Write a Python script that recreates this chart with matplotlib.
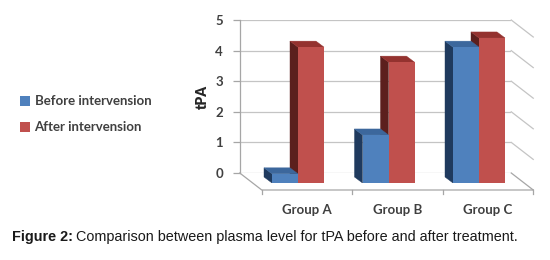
import numpy as np
import matplotlib.pyplot as plt
from matplotlib.patches import Polygon

# data (front face heights)
groups = ['Group A', 'Group B', 'Group C']
before = [0.30, 1.57, 4.44]
after = [4.44, 3.95, 4.74]
names = ['Before intervension', 'After intervension']
yticks = [0, 1, 2, 3, 4, 5]

# colours: front, top, side
blue = ('#4F81BD', '#3C679C', '#1F3A5E')
red = ('#C0504D', '#94322F', '#5C1F1D')
grid_c = '#C4C4C4'
line_c = '#A6A6A6'
text_c = '#404040'

W, H = 550, 260
fig = plt.figure(figsize=(W / 100, H / 100), dpi=100)

# layout in pixels
px_group = 90.5
px_unit = 30.6
left_px = 252.75
zero_px = 183

ax = fig.add_axes([left_px / W, (H - zero_px) / H, 3 * px_group / W, 5 * px_unit / H])
wall = fig.add_axes([(left_px - 13) / W, (H - zero_px + 10) / H,
                     3 * px_group / W, 5 * px_unit / H])
wall.set_zorder(0)
ax.set_zorder(1)
ax.patch.set_visible(False)

# offsets of the fake 3d (in data units of the bar axes)
bar_d = (-8 / px_group, 6 / px_unit)
wall_d = (-13 / px_group, 10 / px_unit)
floor_d = (9 / px_group, -7 / px_unit)

# back wall
wall.set_xlim(-0.5, 2.5)
wall.set_ylim(0, 5)
wall.set_yticks(yticks)
wall.set_xticks([])
wall.yaxis.grid(True, color=grid_c, lw=0.9)
for s in ['top', 'right', 'bottom']:
    wall.spines[s].set_visible(False)
wall.spines['left'].set_color(line_c)
wall.spines['left'].set_linewidth(0.9)
wall.tick_params(axis='y', length=5, width=0.9, color=line_c, pad=7,
                 labelsize=9.5, labelcolor=text_c)
for t in wall.get_yticklabels():
    t.set_family('Lato')
    t.set_weight('bold')
wall.set_ylabel('tPA', fontsize=10, weight='heavy', family='Lato',
                color='#262626', labelpad=5)

ax.set_xlim(-0.5, 2.5)
ax.set_ylim(0, 5)
for s in ax.spines.values():
    s.set_visible(False)
ax.set_yticks([])

# floor and right side wall
xl, xr = -0.5, 2.5
ax.plot([xl + wall_d[0], xl + floor_d[0], xr + floor_d[0]],
        [wall_d[1], floor_d[1], floor_d[1]], color=line_c, lw=0.9, clip_on=False, zorder=1)
for k in yticks:
    ax.plot([xr + wall_d[0], xr + floor_d[0]], [k + wall_d[1], k + floor_d[1]],
            color=grid_c if k else line_c, lw=0.9, clip_on=False, zorder=1)
for b in [-0.5, 0.5, 1.5, 2.5]:
    ax.plot([b + floor_d[0]] * 2, [floor_d[1], floor_d[1] - 4 / px_unit],
            color=line_c, lw=0.9, clip_on=False, zorder=1)

x = np.arange(len(groups))
w = 26 / px_group


def bar3d(xs, hs, cols, z):
    rects = ax.bar(xs, hs, w, color=cols[0], zorder=z + 0.2)
    for r in rects:
        x0, x1, h = r.get_x(), r.get_x() + r.get_width(), r.get_height()
        dx, dy = bar_d
        side = Polygon([(x0, 0), (x0, h), (x0 + dx, h + dy), (x0 + dx, dy)],
                       closed=True, fc=cols[2], ec=cols[2], lw=0.3, zorder=z)
        top = Polygon([(x0, h), (x1, h), (x1 + dx, h + dy), (x0 + dx, h + dy)],
                      closed=True, fc=cols[1], ec=cols[1], lw=0.3, zorder=z + 0.1)
        ax.add_patch(side)
        ax.add_patch(top)
    return rects


r_after = bar3d(x + w / 2, after, red, 2)
r_before = bar3d(x - w / 2, before, blue, 3)

ax.set_xticks(x + floor_d[0], groups)
ax.tick_params(axis='x', length=0, pad=15, labelsize=9.5, labelcolor=text_c)
for t in ax.get_xticklabels():
    t.set_family('Lato')
    t.set_weight('bold')

fig.legend([r_before, r_after], names, loc='center left',
           bbox_to_anchor=(20 / W, 0.56), frameon=False, borderpad=0,
           borderaxespad=0, handlelength=0.75, handleheight=0.75,
           handletextpad=0.35, labelspacing=1.05,
           prop={'family': 'Lato', 'size': 9.5, 'weight': 'bold'},
           labelcolor=text_c)

# caption
cap_y = 23 / H
t1 = fig.text(12 / W, cap_y, 'Figure 2:', fontsize=10.4, weight='bold',
              family='Liberation Sans', va='center', color='#1a1a1a')
fig.canvas.draw()
bb = t1.get_window_extent()
fig.text((bb.x1 + 3) / W, cap_y,
         'Comparison between plasma level for tPA before and after treatment.',
         fontsize=10.4, family='Liberation Sans', va='center', color='#1a1a1a')

fig.savefig('out.png', dpi=100)
